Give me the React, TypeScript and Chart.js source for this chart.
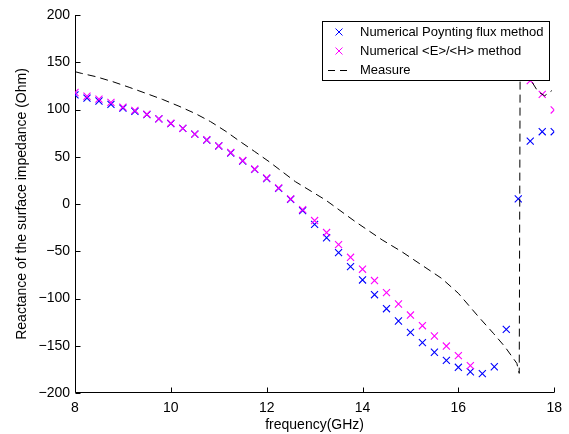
import React, { useEffect, useRef } from "react";
import { Chart, registerables } from "chart.js";

Chart.register(...registerables);

// ---- data ----
const freq = [
  8, 8.25, 8.5, 8.75, 9, 9.25, 9.5, 9.75, 10, 10.25, 10.5, 10.75, 11, 11.25,
  11.5, 11.75, 12, 12.25, 12.5, 12.75, 13, 13.25, 13.5, 13.75, 14, 14.25, 14.5,
  14.75, 15, 15.25, 15.5, 15.75, 16, 16.25, 16.5, 16.75, 17, 17.25, 17.5, 17.75, 18,
];

const poyntingFlux = [
  115.5, 112, 109, 105.5, 101.5, 98, 94.5, 90, 85, 80, 74, 67.7, 61.4, 54,
  45.5, 36.7, 27, 16.6, 5, -7, -21.5, -35.7, -51.5, -66.3, -80.4, -96, -110.8,
  -123.8, -135.8, -146.7, -156.9, -165.4, -172.8, -177.5, -179.5, -172.2, -132.6, 5.5, 66.5, 76.5, 76.5,
];

const eOverH = [
  118, 114, 111, 107.5, 102.5, 99, 95, 90, 85.5, 80, 74, 68, 61.5, 54.5,
  46, 37, 27.5, 17, 5.5, -6, -17.5, -30.2, -43, -56.4, -69, -81, -93.8,
  -105.8, -117.5, -128.8, -139.7, -150.3, -160.5, -171, null, null, null, null, 130.5, 116, 99.5,
];

const measureFreq = [
  8, 8.13, 8.44, 8.79, 9.13, 9.48, 9.83, 10.17, 10.52, 10.83, 11.15, 11.42,
  11.75, 12.05, 12.6, 13.23, 13.85, 14.41, 14.82, 15.65, 16.0, 16.42, 16.73, 16.97,
  17.22, 17.27, 17.29, 17.45, 17.55, 17.66, 17.8, 17.95,
];
const measureVal = [
  140, 138.3, 134.7, 129.4, 123.5, 117.1, 110.6, 103.5, 95.5, 87.1, 76.8, 67,
  55.5, 44.8, 23.6, 4.2, -18.7, -38, -50.5, -78.7, -94.5, -119.3, -136.8, -151,
  -168.6, -179.2, 165, 140, 128, 119, 114.5, 120,
];

const xTicks = [8, 10, 12, 14, 16, 18];
const yTicks = [-200, -150, -100, -50, 0, 50, 100, 150, 200];

const seriesNames = [
  "Numerical Poynting flux method",
  "Numerical <E>/<H> method",
  "Measure",
];
const xTitle = "frequency(GHz)";
const yTitle = "Reactance of the surface impedance (Ohm)";

const BLUE = "#0000ff";
const MAGENTA = "#ff00ff";
const FONT = "'Liberation Sans', Arial, Helvetica, sans-serif";

const fmt = (v: number) => String(v).replace("-", "\u2212");

const axesPlugin = {
  id: "matlabAxes",
  beforeDatasetsDraw(chart: any) {
    const { ctx, chartArea, scales } = chart;
    const x0 = Math.round(chartArea.left) + 0.5;
    const y0 = Math.round(chartArea.bottom) - 0.5;
    const x1 = chartArea.right;
    const yTop = chartArea.top;
    ctx.save();
    ctx.strokeStyle = "#000";
    ctx.lineWidth = 1;
    ctx.beginPath();
    ctx.moveTo(x0, yTop);
    ctx.lineTo(x0, y0);
    ctx.lineTo(x1, y0);
    ctx.stroke();
    ctx.beginPath();
    for (const v of yTicks) {
      const py = Math.round(scales.y.getPixelForValue(v)) + 0.5;
      ctx.moveTo(x0, py);
      ctx.lineTo(x0 + 5, py);
    }
    for (const v of xTicks) {
      const px = Math.round(scales.x.getPixelForValue(v)) + 0.5;
      ctx.moveTo(px, y0);
      ctx.lineTo(px, y0 - 5);
    }
    ctx.stroke();
    ctx.restore();
  },
};

const legendPlugin = {
  id: "boxLegend",
  afterDatasetsDraw(chart: any) {
    const ctx = chart.ctx;
    const L = 322.5, T = 21.5, R = 549.5, B = 80.5;
    ctx.save();
    ctx.fillStyle = "#fff";
    ctx.fillRect(L, T, R - L, B - T);
    ctx.strokeStyle = "#000";
    ctx.lineWidth = 1;
    ctx.strokeRect(L, T, R - L, B - T);
    const rows = [32, 51, 70];
    const mx = 339;
    const s = 3.5;
    [BLUE, MAGENTA].forEach((c, i) => {
      ctx.strokeStyle = c;
      ctx.beginPath();
      ctx.moveTo(mx - s, rows[i] - s);
      ctx.lineTo(mx + s, rows[i] + s);
      ctx.moveTo(mx - s, rows[i] + s);
      ctx.lineTo(mx + s, rows[i] - s);
      ctx.stroke();
    });
    ctx.strokeStyle = "#000";
    ctx.setLineDash([7, 5]);
    ctx.beginPath();
    ctx.moveTo(328, rows[2] + 0.5);
    ctx.lineTo(352, rows[2] + 0.5);
    ctx.stroke();
    ctx.setLineDash([]);
    ctx.fillStyle = "#000";
    ctx.font = `13px ${FONT}`;
    ctx.textBaseline = "middle";
    ctx.textAlign = "left";
    seriesNames.forEach((n, i) => ctx.fillText(n, 360, rows[i]));
    ctx.restore();
  },
};

export default function App() {
  const ref = useRef<HTMLCanvasElement>(null);

  useEffect(() => {
    if (!ref.current) return;
    const pts = (xs: number[], ys: (number | null)[]) =>
      xs
        .map((x, i) => ({ x, y: ys[i] }))
        .filter((p) => p.y !== null && p.y !== undefined);

    const chart = new Chart(ref.current, {
      type: "scatter",
      data: {
        datasets: [
          {
            label: seriesNames[0],
            data: pts(freq, poyntingFlux) as any,
            pointStyle: "crossRot",
            pointRadius: 5,
            pointBorderWidth: 1.1,
            borderColor: BLUE,
            backgroundColor: BLUE,
            showLine: false,
            order: 3,
          },
          {
            label: seriesNames[1],
            data: pts(freq, eOverH) as any,
            pointStyle: "crossRot",
            pointRadius: 5,
            pointBorderWidth: 1.1,
            borderColor: MAGENTA,
            backgroundColor: MAGENTA,
            showLine: false,
            order: 2,
          },
          {
            label: seriesNames[2],
            data: pts(measureFreq, measureVal) as any,
            showLine: true,
            pointRadius: 0,
            borderColor: "#000",
            borderWidth: 1,
            borderDash: [8, 5],
            tension: 0,
            order: 1,
          },
        ],
      },
      options: {
        animation: false,
        responsive: false,
        events: [],
        layout: { padding: { top: 15, right: 13, left: 0, bottom: 0 } },
        plugins: { legend: { display: false }, tooltip: { enabled: false } },
        scales: {
          x: {
            type: "linear",
            min: 8,
            max: 18,
            afterBuildTicks: (s: any) => {
              s.ticks = xTicks.map((v) => ({ value: v }));
            },
            afterFit: (s: any) => {
              s.height = 41;
            },
            grid: { display: false, drawTicks: false },
            border: { display: false },
            ticks: {
              padding: 7,
              color: "#000",
              maxRotation: 0,
              font: { family: FONT, size: 14 },
              callback: (v: any) => fmt(Number(v)),
            },
            title: {
              display: true,
              text: xTitle,
              color: "#000",
              font: { family: FONT, size: 14 },
              padding: { top: 0, bottom: 0 },
            },
          },
          y: {
            type: "linear",
            min: -200,
            max: 200,
            afterBuildTicks: (s: any) => {
              s.ticks = yTicks.map((v) => ({ value: v }));
            },
            afterFit: (s: any) => {
              s.width = 75;
            },
            grid: { display: false, drawTicks: false },
            border: { display: false },
            ticks: {
              padding: 5,
              color: "#000",
              font: { family: FONT, size: 14 },
              callback: (v: any) => fmt(Number(v)),
            },
            title: {
              display: true,
              text: yTitle,
              color: "#000",
              font: { family: FONT, size: 14 },
              padding: { top: 13.6, bottom: 0 },
            },
          },
        },
      },
      plugins: [axesPlugin, legendPlugin],
    });
    return () => chart.destroy();
  }, []);

  return (
    <div style={{ position: "absolute", left: 0, top: 0, width: 569, height: 434, background: "#fff" }}>
      <canvas ref={ref} width={569} height={434} />
    </div>
  );
}
